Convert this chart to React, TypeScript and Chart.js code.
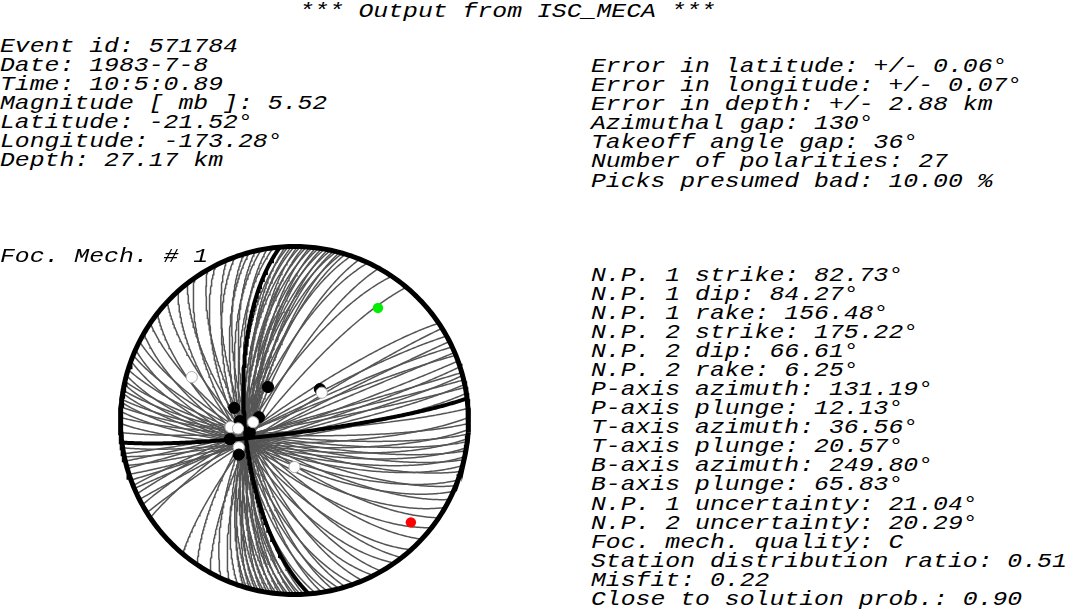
import React, { useEffect, useRef } from "react";
import { Chart, registerables } from "chart.js";
Chart.register(...registerables);

// ---------- text ----------
const titleText = "*** Output from ISC_MECA ***";
const eventLines = [
  "Event id: 571784",
  "Date: 1983-7-8",
  "Time: 10:5:0.89",
  "Magnitude [ mb ]: 5.52",
  "Latitude: -21.52°",
  "Longitude: -173.28°",
  "Depth: 27.17 km",
];
const qualityLines = [
  "Error in latitude: +/- 0.06°",
  "Error in longitude: +/- 0.07°",
  "Error in depth: +/- 2.88 km",
  "Azimuthal gap: 130°",
  "Takeoff angle gap: 36°",
  "Number of polarities: 27",
  "Picks presumed bad: 10.00 %",
];
const mechLabel = "Foc. Mech. # 1";
const mechLines = [
  "N.P. 1 strike: 82.73°",
  "N.P. 1 dip: 84.27°",
  "N.P. 1 rake: 156.48°",
  "N.P. 2 strike: 175.22°",
  "N.P. 2 dip: 66.61°",
  "N.P. 2 rake: 6.25°",
  "P-axis azimuth: 131.19°",
  "P-axis plunge: 12.13°",
  "T-axis azimuth: 36.56°",
  "T-axis plunge: 20.57°",
  "B-axis azimuth: 249.80°",
  "B-axis plunge: 65.83°",
  "N.P. 1 uncertainty: 21.04°",
  "N.P. 2 uncertainty: 20.29°",
  "Foc. mech. quality: C",
  "Station distribution ratio: 0.51",
  "Misfit: 0.22",
  "Close to solution prob.: 0.90",
];

// ---------- data ----------
const nodalStrike = [82.73, 175.22];
const nodalDip = [84.27, 66.61];

const axisAzimuth = [36.56, 131.19]; // T, P
const axisPlunge = [20.57, 12.13];
const axisColor = ["#00ee00", "#ff0000"];

// acceptable alternative planes (strike, dip)
const altStrike = [
  236, 238, 241, 243, 245, 247, 248, 70, 72, 74, 75, 76.5, 78, 79, 81, 86, 89, 91, 93, 94.5,
  96, 97, 99, 100, 102, 103, 105, 107, 110, 112, 114, 117, 120, 124, 128, 133, 138, 142,
  145, 150, 153, 157, 160, 163, 165, 167, 169, 171, 173, 177, 178, 179, 180, 181, 182, 183,
  184, 185, 186, 187, 188, 189, 190, 191, 192, 193, 194, 195, 196, 197, 199, 202, 205, 209,
  214, 220,
];
const altDip = [
  82.0, 86.5, 84.0, 88.5, 85.5, 89.5, 86.5, 88.0, 86.0, 89.5, 85.0, 88.8, 84.0, 87.8, 82.5, 85.0, 79.5, 83.0, 77.8, 81.8,
  76.5, 80.6, 75.4, 79.5, 74.2, 78.4, 73.2, 77.0, 71.6, 75.4, 70.4, 74.0, 69.0, 72.2, 67.5, 70.2, 66.0, 68.8,
  64.6, 68.2, 64.3, 68.0, 64.0, 67.9, 64.4, 68.2, 64.6, 68.4, 64.8, 69.0, 65.2, 68.0, 66.4, 70.2, 65.6, 69.4,
  66.8, 70.6, 66.2, 71.0, 67.4, 69.9, 67.0, 71.6, 68.0, 70.8, 67.6, 72.2, 68.8, 71.4, 69.4, 73.0, 70.8, 75.2,
  73.8, 78.6,
];

// stations: azimuth, takeoff angle, polarity (C = compression, D = dilatation)
const stationAz = [269.3, 281.8, 321.6, 275.3, 255.1, 253.9, 39.0, 244.3, 292.9, 264.1, 262.0, 267.7, 180.0, 44.5, 238.5];
const stationTakeoff = [25.7, 29.0, 20.0, 16.7, 21.7, 31.7, 18.9, 29.1, 53.9, 30.3, 26.8, 19.4, 21.8, 18.2, 30.8];
const stationPolarity = ["C", "C", "C", "C", "C", "C", "C", "D", "D", "D", "D", "D", "D", "D", "C"];

// ---------- projection (lower hemisphere, equal area) ----------
const RAD = Math.PI / 180;
function projectLine(trend: number, plunge: number) {
  const t = trend * RAD, p = plunge * RAD;
  const n = Math.cos(p) * Math.cos(t);
  const e = Math.cos(p) * Math.sin(t);
  const d = Math.sin(p);
  const k = 1 / Math.sqrt(1 + d);
  return { x: e * k, y: n * k };
}
function greatCircle(strike: number, dip: number) {
  const f = strike * RAD, dp = dip * RAD;
  const sN = Math.cos(f), sE = Math.sin(f);
  const dN = Math.cos(dp) * Math.cos(f + Math.PI / 2);
  const dE = Math.cos(dp) * Math.sin(f + Math.PI / 2);
  const dD = Math.sin(dp);
  const pts: { x: number; y: number }[] = [];
  for (let i = 0; i <= 180; i++) {
    const l = i * RAD;
    const n = Math.cos(l) * sN + Math.sin(l) * dN;
    const e = Math.cos(l) * sE + Math.sin(l) * dE;
    const d = Math.sin(l) * dD;
    const k = 1 / Math.sqrt(1 + d);
    pts.push({ x: e * k, y: n * k });
  }
  return pts;
}
function rimPoints() {
  const pts: { x: number; y: number }[] = [];
  for (let i = 0; i <= 360; i++) pts.push({ x: Math.sin(i * RAD), y: Math.cos(i * RAD) });
  return pts;
}

const FONT = '"Liberation Mono", "Courier New", monospace';
const FS = 21;
const SX = 1.18;

function TextBlock(props: { lines: string[]; left: number; top: number; lh: number }) {
  return (
    <div
      style={{
        position: "absolute",
        left: props.left,
        top: props.top,
        fontFamily: FONT,
        fontStyle: "italic",
        fontSize: FS,
        lineHeight: props.lh + "px",
        whiteSpace: "pre",
        color: "#000",
        transform: `scaleX(${SX})`,
        transformOrigin: "left top",
      }}
    >
      {props.lines.map((l, i) => (
        <div key={i}>{l}</div>
      ))}
    </div>
  );
}

const CX = 294.5, CY = 420.5, R = 174;
const CAN_L = 110, CAN_T = 236, CAN_S = 370;

export default function App() {
  const ref = useRef<HTMLCanvasElement>(null);
  useEffect(() => {
    if (!ref.current) return;
    const datasets: any[] = [];
    // stations
    datasets.push({
      data: stationAz.map((az, i) => projectLine(az, 90 - stationTakeoff[i])),
      showLine: false,
      pointRadius: 5.6,
      pointBackgroundColor: stationPolarity.map((p) => (p === "C" ? "#000000" : "#ffffff")),
      pointBorderColor: stationPolarity.map((p) => (p === "C" ? "#000000" : "#b0b0b0")),
      pointBorderWidth: 1,
      order: 0,
    });
    // P / T axes
    datasets.push({
      data: axisAzimuth.map((az, i) => projectLine(az, axisPlunge[i])),
      showLine: false,
      pointRadius: 5.2,
      pointBackgroundColor: axisColor,
      pointBorderColor: axisColor,
      pointBorderWidth: 0,
      order: 1,
    });
    // nodal planes
    nodalStrike.forEach((s, i) => {
      datasets.push({
        data: greatCircle(s, nodalDip[i]),
        showLine: true,
        pointRadius: 0,
        borderColor: "#000000",
        borderWidth: 4,
        tension: 0,
        order: 2,
      });
    });
    // primitive circle
    datasets.push({
      data: rimPoints(),
      showLine: true,
      pointRadius: 0,
      borderColor: "#000000",
      borderWidth: 5,
      tension: 0,
      order: 3,
    });
    // alternative planes
    altStrike.forEach((s, i) => {
      datasets.push({
        data: greatCircle(s, altDip[i]),
        showLine: true,
        pointRadius: 0,
        borderColor: "#555555",
        borderWidth: 1.5,
        tension: 0,
        order: 4,
      });
    });

    const chart = new Chart(ref.current, {
      type: "scatter",
      data: { datasets },
      options: {
        animation: false,
        responsive: false,
        maintainAspectRatio: false,
        events: [],
        layout: { padding: 0, autoPadding: false },
        plugins: { legend: { display: false }, tooltip: { enabled: false }, title: { display: false } },
        scales: {
          x: { type: "linear", display: false, min: -(CX - CAN_L) / R, max: (CAN_L + CAN_S - CX) / R },
          y: { type: "linear", display: false, min: -(CAN_T + CAN_S - CY) / R, max: (CY - CAN_T) / R },
        },
      },
    });
    return () => chart.destroy();
  }, []);

  return (
    <div style={{ position: "fixed", left: 0, top: 0, width: 1068, height: 612, background: "#fff", overflow: "hidden" }}>
      <canvas
        ref={ref}
        width={CAN_S}
        height={CAN_S}
        style={{ position: "absolute", left: CAN_L, top: CAN_T, width: CAN_S, height: CAN_S }}
      />
      <TextBlock lines={[titleText]} left={299} top={1.6} lh={19} />
      <TextBlock lines={eventLines} left={0} top={38.2} lh={18.9} />
      <TextBlock lines={qualityLines} left={591} top={56.6} lh={19.17} />
      <TextBlock lines={[mechLabel]} left={0} top={247} lh={19} />
      <TextBlock lines={mechLines} left={591} top={265.6} lh={19.08} />
    </div>
  );
}
